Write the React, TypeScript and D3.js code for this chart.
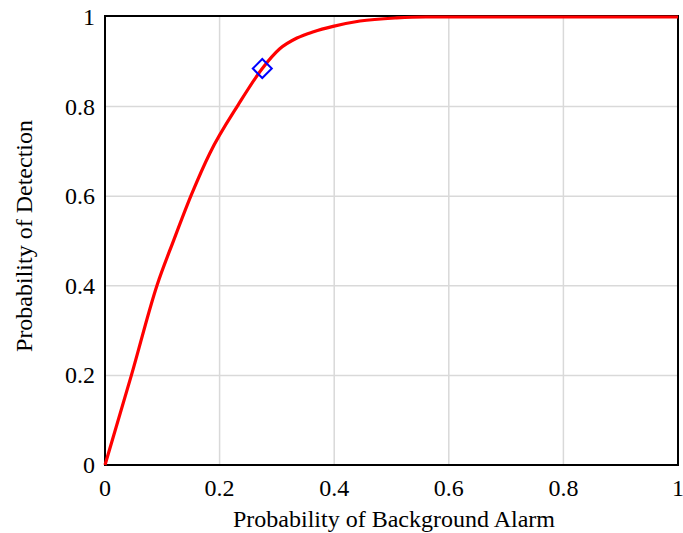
import React from "react";
import * as d3 from "d3";

const falseAlarm = [0, 0.046, 0.091, 0.12, 0.151, 0.183, 0.233, 0.2745, 0.305, 0.335, 0.364, 0.398, 0.445, 0.509, 0.56, 1];
const detection = [0, 0.2, 0.402, 0.502, 0.604, 0.696, 0.805, 0.885, 0.929, 0.953, 0.967, 0.979, 0.991, 0.998, 1, 1];
const operatingPoint = [0.2745, 0.885];
const xTicks = [0, 0.2, 0.4, 0.6, 0.8, 1];
const yTicks = [0, 0.2, 0.4, 0.6, 0.8, 1];
const xTitle = "Probability of Background Alarm";
const yTitle = "Probability of Detection";

export default function App() {
  const W = 683, H = 533;
  const L = 105, R = 678, T = 17, B = 465;
  const x = d3.scaleLinear().domain([0, 1]).range([L, R]);
  const y = d3.scaleLinear().domain([0, 1]).range([B, T]);
  const pts: [number, number][] = falseAlarm.map((v, i) => [v, detection[i]]);
  const line = d3.line<[number, number]>().x(d => x(d[0])).y(d => y(d[1])).curve(d3.curveMonotoneX);
  const ts: React.CSSProperties = { fontFamily: '"Liberation Serif", "DejaVu Serif", serif' };
  const mx = x(operatingPoint[0]), my = y(operatingPoint[1]);
  const s = 9.5;
  return (
    <svg width={W} height={H} style={{ position: "absolute", left: 0, top: 0, background: "#fff" }}>
      <rect x={0} y={0} width={W} height={H} fill="#fff" />
      {xTicks.slice(1, -1).map(t => (
        <line key={"gx" + t} x1={x(t)} x2={x(t)} y1={T} y2={B} stroke="#d9d9d9" strokeWidth={1.5} />
      ))}
      {yTicks.slice(1, -1).map(t => (
        <line key={"gy" + t} x1={L} x2={R} y1={y(t)} y2={y(t)} stroke="#d9d9d9" strokeWidth={1.5} />
      ))}
      <rect x={L} y={T - 1} width={R - L} height={B - T + 1} fill="none" stroke="#000" strokeWidth={2} />
      <path d={line(pts) || ""} fill="none" stroke="#ff0000" strokeWidth={3.2} />
      <path d={`M${mx},${my - s}L${mx + s},${my}L${mx},${my + s}L${mx - s},${my}Z`} fill="none" stroke="#0000ff" strokeWidth={2} />
      {xTicks.map(t => (
        <text key={"xt" + t} x={x(t)} y={B + 31} fontSize={24} textAnchor="middle" fill="#000" style={ts}>{String(t)}</text>
      ))}
      {yTicks.map(t => (
        <text key={"yt" + t} x={L - 10} y={y(t) + 8} fontSize={24} textAnchor="end" fill="#000" style={ts}>{String(t)}</text>
      ))}
      <text x={394} y={527} fontSize={24} textAnchor="middle" fill="#000" style={ts}>{xTitle}</text>
      <text transform={`translate(32,236) rotate(-90)`} fontSize={24} textAnchor="middle" fill="#000" style={ts}>{yTitle}</text>
    </svg>
  );
}
